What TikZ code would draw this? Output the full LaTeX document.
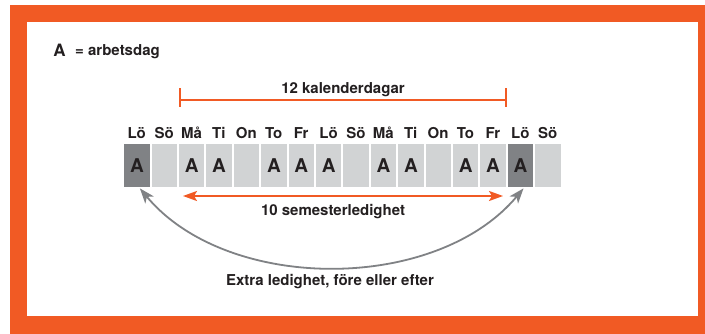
\documentclass[tikz,border=0pt]{standalone}
\usepackage{fontspec}
\setmainfont{TeX Gyre Heros}
\usetikzlibrary{arrows.meta}
\definecolor{orng}{HTML}{F15A24}
\definecolor{txt}{HTML}{231F20}
\definecolor{cellL}{HTML}{D1D3D4}
\definecolor{cellD}{HTML}{808285}
\definecolor{arrG}{HTML}{808285}
\tikzset{
  lbl/.style={font=\fontsize{15}{18}\selectfont\bfseries, text=txt, inner sep=0pt, anchor=base},
  daybox/.style={fill=cellL, minimum width=25.4pt, minimum height=43pt, inner sep=0pt, anchor=north west,
     font=\fontsize{19}{22}\selectfont\bfseries, text=txt},
  workdark/.style={daybox, fill=cellD},
  orline/.style={draw=orng, line width=2pt},
  grarrow/.style={draw=arrG, line width=1.8pt, {Stealth[length=15pt,width=11pt,inset=4pt]}-{Stealth[length=15pt,width=11pt,inset=4pt]}},
}
\begin{document}
\begin{tikzpicture}[x=1pt,y=-1pt]
\useasboundingbox (0,0) rectangle (705,334);
\fill[orng] (10,5) rectangle (705,334);
\fill[white] (27,22) rectangle (698,316);
% legend
\node[lbl, font=\fontsize{17}{20}\selectfont\bfseries] (legA) at (59.5,57) {A};
\node[lbl, anchor=base west] (legT) at (75,56) {= arbetsdag};
% cells
\foreach \i/\d/\a/\s in {0/Lö/A/workdark,1/Sö//daybox,2/Må/A/daybox,3/Ti/A/daybox,4/On//daybox,5/To/A/daybox,6/Fr/A/daybox,7/Lö/A/daybox,8/Sö//daybox,9/Må/A/daybox,10/Ti/A/daybox,11/On//daybox,12/To/A/daybox,13/Fr/A/daybox,14/Lö/A/workdark,15/Sö//daybox}{
  \node[\s] (c\i) at ({124+27.4*\i},144) {\a};
  \node[lbl] (d\i) at ({124+27.4*\i+12.7},139) {\d};
}
% 12 kalenderdagar
\coordinate (kL) at (180,100);
\coordinate (kR) at (506,100);
\draw[orline] (kL) -- (kR);
\draw[orline] ([yshift=-7pt]kL) -- ([yshift=12pt]kL);
\draw[orline] ([yshift=-7pt]kR) -- ([yshift=12pt]kR);
\node[lbl] (kal) at (343,94) {12 kalenderdagar};
% 10 semesterledighet
\coordinate (sL) at (183,196);
\coordinate (sR) at (503,196);
\draw[orline, {Stealth[length=14pt,width=10pt,inset=3pt]}-{Stealth[length=14pt,width=10pt,inset=3pt]}] (sL) -- (sR);
\node[lbl] (sem) at (333,216) {10 semesterledighet};
% extra
\draw[grarrow] ([xshift=3pt,yshift=-1pt]c0.south) .. controls (227,293) and (436,293) .. ([xshift=3pt,yshift=-1pt]c14.south);
\node[lbl] (ext) at (330,286) {Extra ledighet, före eller efter};
\end{tikzpicture}
\end{document}
